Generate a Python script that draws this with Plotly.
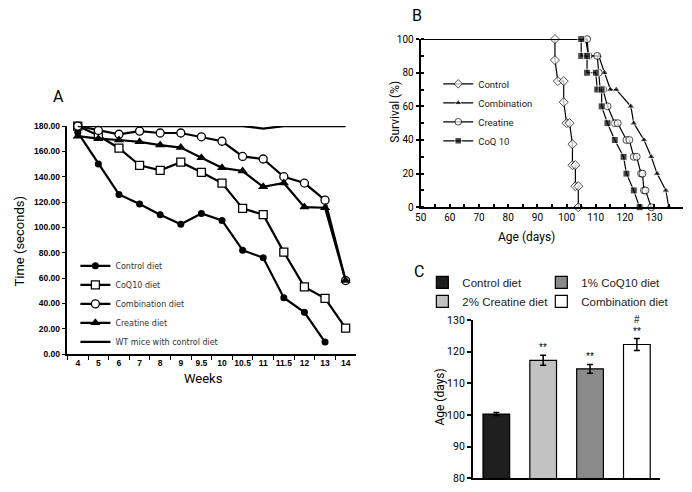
import plotly.graph_objects as go

W, H = 692, 492

# ---------------- Panel A data ----------------
weeks = ["4", "5", "6", "7", "8", "9", "9.5", "10", "10.5", "11", "11.5", "12", "13", "14"]
a_control = [175, 150, 126, 118.5, 110, 102.5, 111, 105.5, 82, 76, 44.5, 33, 9.5, None]
a_coq10 = [180, 172.5, 162.5, 149, 145, 151.5, 143.5, 135, 115, 110, 80.5, 53, 44, 20.5]
a_combination = [180, 176.5, 173.5, 176, 174.5, 174.5, 171.5, 168, 156, 154, 140, 135, 121.5, 58]
a_creatine = [172, 170, 169, 167.5, 165, 163, 155, 147, 144.5, 132, 135, 116, 115.5, 58]
a_wt = [180, 180, 180, 180, 180, 180, 180, 180, 180, 178, 180, 180, 180, 180]
a_ticks = [0, 20, 40, 60, 80, 100, 120, 140, 160, 180]

# ---------------- Panel B data ----------------
b_control_x = [50, 96, 96, 97, 99, 99, 100, 101, 102, 102, 103, 103, 104, 104]
b_control_y = [100, 100, 87.5, 75, 75, 62.5, 50, 50, 37.5, 25, 25, 12.5, 12.5, 0]
b_comb_x = [50, 106.5, 107.5, 111, 113, 115, 117, 122, 123, 126.5, 129, 131, 134, 135]
b_comb_y = [100, 100, 90, 90, 80, 70, 70, 60, 50, 40, 30, 20, 10, 0]
b_creat_x = [50, 107, 107.5, 110.5, 111, 111.5, 112.5, 114, 116.5, 117.5, 120.5, 121.5, 123, 124,
             125.5, 126, 126.5, 127, 129]
b_creat_y = [100, 100, 90, 90, 80, 70, 70, 60, 50, 50, 40, 40, 30, 30, 20, 20, 10, 10, 0]
b_coq_x = [50, 105, 105, 107, 107, 110, 110.5, 112, 112, 114, 116.5, 119.5, 120.5, 123, 125]
b_coq_y = [100, 100, 90, 90, 80, 80, 70, 70, 60, 50, 40, 30, 20, 10, 0]

# ---------------- Panel C data ----------------
c_groups = ["Control diet", "2% Creatine diet", "1% CoQ10 diet", "Combination diet"]
c_mean = [100.3, 117.3, 114.6, 122.3]
c_err = [0.5, 1.6, 1.4, 1.9]
c_sig = ["", "**", "**", "**"]
c_hash = ["", "", "", "#"]
c_colors = ["#1e1e1e", "#c2c2c2", "#8a8a8a", "#ffffff"]
c_legend = ["legend3", "legend3", "legend4", "legend4"]

fig = go.Figure()

# Panel A traces
lw_a = 2.2
fig.add_trace(go.Scatter(x=weeks, y=a_control, name="Control diet", mode="lines+markers",
                         line=dict(color="black", width=lw_a),
                         marker=dict(symbol="circle", size=7, color="black"),
                         xaxis="x", yaxis="y", legend="legend", cliponaxis=False))
fig.add_trace(go.Scatter(x=weeks, y=a_coq10, name="CoQ10 diet", mode="lines+markers",
                         line=dict(color="black", width=lw_a),
                         marker=dict(symbol="square", size=8, color="white",
                                     line=dict(color="black", width=1.3)),
                         xaxis="x", yaxis="y", legend="legend", cliponaxis=False))
fig.add_trace(go.Scatter(x=weeks, y=a_combination, name="Combination diet", mode="lines+markers",
                         line=dict(color="black", width=lw_a),
                         marker=dict(symbol="circle", size=8, color="white",
                                     line=dict(color="black", width=1.3)),
                         xaxis="x", yaxis="y", legend="legend", cliponaxis=False))
fig.add_trace(go.Scatter(x=weeks, y=a_creatine, name="Creatine diet", mode="lines+markers",
                         line=dict(color="black", width=lw_a),
                         marker=dict(symbol="triangle-up", size=9, color="black"),
                         xaxis="x", yaxis="y", legend="legend", cliponaxis=False))
fig.add_trace(go.Scatter(x=weeks, y=a_wt, name="WT mice with control diet", mode="lines",
                         line=dict(color="black", width=lw_a),
                         xaxis="x", yaxis="y", legend="legend", cliponaxis=False))

# Panel B traces
def sizes(n, s):
    out = [0]
    for _ in range(n - 1):
        out.append(s)
    return out

fig.add_trace(go.Scatter(x=b_control_x, y=b_control_y, name="Control", mode="lines+markers",
                         line=dict(color="black", width=1.2),
                         marker=dict(symbol="diamond", size=sizes(len(b_control_x), 7), color="white",
                                     line=dict(color="black", width=1)),
                         xaxis="x2", yaxis="y2", legend="legend2", cliponaxis=False))
fig.add_trace(go.Scatter(x=b_comb_x, y=b_comb_y, name="Combination", mode="lines+markers",
                         line=dict(color="black", width=1.2),
                         marker=dict(symbol="triangle-up", size=sizes(len(b_comb_x), 7), color="black"),
                         xaxis="x2", yaxis="y2", legend="legend2", cliponaxis=False))
fig.add_trace(go.Scatter(x=b_creat_x, y=b_creat_y, name="Creatine", mode="lines+markers",
                         line=dict(color="black", width=1.2),
                         marker=dict(symbol="circle", size=sizes(len(b_creat_x), 7), color="white",
                                     line=dict(color="black", width=1)),
                         xaxis="x2", yaxis="y2", legend="legend2", cliponaxis=False))
fig.add_trace(go.Scatter(x=b_coq_x, y=b_coq_y, name="CoQ 10", mode="lines+markers",
                         line=dict(color="black", width=1.2),
                         marker=dict(symbol="square", size=sizes(len(b_coq_x), 7), color="black"),
                         xaxis="x2", yaxis="y2", legend="legend2", cliponaxis=False))

# Panel C traces
for i, g in enumerate(c_groups):
    fig.add_trace(go.Bar(x=[i], y=[c_mean[i]], name=g, width=0.57,
                         marker=dict(color=c_colors[i], line=dict(color="black", width=1.2)),
                         error_y=dict(type="data", array=[c_err[i]], color="black",
                                      thickness=1.5, width=3),
                         xaxis="x3", yaxis="y3", legend=c_legend[i]))

line_col = "black"
fig.update_layout(
    width=W, height=H, margin=dict(l=0, r=0, t=0, b=0),
    paper_bgcolor="white", plot_bgcolor="white",
    font=dict(family="Roboto", color="black"),
    barmode="overlay",
    xaxis=dict(domain=[62 / W, 353 / W], anchor="y", type="category", categoryarray=weeks,
               categoryorder="array", range=[-0.5, 13.5], tickson="boundaries", tickangle=0,
               ticks="outside", ticklen=4, tickcolor=line_col, showline=True, linecolor=line_col,
               linewidth=1.5, showgrid=False, zeroline=False,
               tickfont=dict(family="Liberation Sans", size=8.5, weight="bold")),
    yaxis=dict(domain=[1 - 357.5 / H, 1 - 123.3 / H], anchor="x", range=[0, 180],
               tickvals=a_ticks, tickformat=".2f", ticks="outside", ticklen=4,
               tickcolor=line_col, showline=True, linecolor=line_col, linewidth=1.5,
               showgrid=False, zeroline=False,
               tickfont=dict(family="Liberation Sans", size=8.5, weight="bold")),
    xaxis2=dict(domain=[418.3 / W, 683.3 / W], anchor="y2", range=[50, 140], dtick=10,
                ticks="inside", ticklen=3, tickwidth=2, tickcolor=line_col,
                minor=dict(dtick=5, ticks="inside", ticklen=3, tickwidth=2, tickcolor=line_col),
                showline=True, linecolor=line_col, linewidth=2, showgrid=False, zeroline=False,
                tickfont=dict(size=10)),
    yaxis2=dict(domain=[1 - 206.7 / H, 1 - 34 / H], anchor="x2", range=[0, 100], dtick=20,
                ticks="outside", ticklen=3, tickwidth=2, tickcolor=line_col,
                minor=dict(dtick=10, ticks="inside", ticklen=3, tickwidth=2, tickcolor=line_col),
                showline=True, linecolor=line_col, linewidth=2, showgrid=False, zeroline=False,
                tickfont=dict(size=10)),
    xaxis3=dict(domain=[471 / W, 660 / W], anchor="y3", range=[-0.5, 3.5],
                showticklabels=False, ticks="", showline=True, linecolor=line_col, linewidth=2,
                showgrid=False, zeroline=False),
    yaxis3=dict(domain=[1 - 485 / H, 1 - 322.7 / H], anchor="x3", range=[80, 130], dtick=10,
                ticks="outside", ticklen=4, tickwidth=1.5, tickcolor=line_col,
                showline=True, linecolor=line_col, linewidth=2, showgrid=False, zeroline=False,
                tickfont=dict(size=10.5)),
    legend=dict(x=70 / W, y=1 - 252 / H, xanchor="left", yanchor="top",
                bgcolor="rgba(0,0,0,0)", font=dict(family="DejaVu Sans", size=8, color="#333"),
                tracegroupgap=0),
    legend2=dict(x=436 / W, y=1 - 65 / H, xanchor="left", yanchor="top",
                 bgcolor="rgba(0,0,0,0)", font=dict(size=9.5, color="#222")),
    legend3=dict(x=420 / W, y=1 - 269 / H, xanchor="left", yanchor="top",
                 bgcolor="rgba(0,0,0,0)", font=dict(family="Liberation Sans", size=11.5, color="#222")),
    legend4=dict(x=540 / W, y=1 - 269 / H, xanchor="left", yanchor="top",
                 bgcolor="rgba(0,0,0,0)", font=dict(family="Liberation Sans", size=11.5, color="#222")),
    showlegend=True,
)

def label(text, x, y, size, angle=0):
    return dict(text=text, x=x / W, y=1 - y / H, xref="paper", yref="paper",
                xanchor="center", yanchor="middle", showarrow=False, textangle=angle,
                font=dict(size=size, color="black"))

ann = [
    label("A", 53, 93, 16),
    label("B", 415, 10, 16),
    label("C", 417, 273, 16),
    label("Time (seconds)", 14, 242, 13, -90),
    label("Weeks", 199, 383, 13),
    label("Survival (%)", 393, 109, 12, -90),
    label("Age (days)", 525, 237, 12),
    label("Age (days)", 438, 402, 12, -90),
]
# Significance marks in panel C
for i in range(len(c_groups)):
    if c_sig[i]:
        ann.append(dict(text=c_sig[i], x=i, y=c_mean[i] + c_err[i], xref="x3", yref="y3",
                        xanchor="center", yanchor="bottom", showarrow=False, yshift=0,
                        font=dict(family="Liberation Sans", size=10, color="#000000")))
    if c_hash[i]:
        ann.append(dict(text=c_hash[i], x=i, y=c_mean[i] + c_err[i], xref="x3", yref="y3",
                        xanchor="center", yanchor="bottom", showarrow=False, yshift=12,
                        font=dict(family="Liberation Sans", size=10, color="#000000")))
fig.update_layout(annotations=ann)

fig.write_html("out.html", config={"displayModeBar": False},
               post_script="document.body.style.margin='0px';")
